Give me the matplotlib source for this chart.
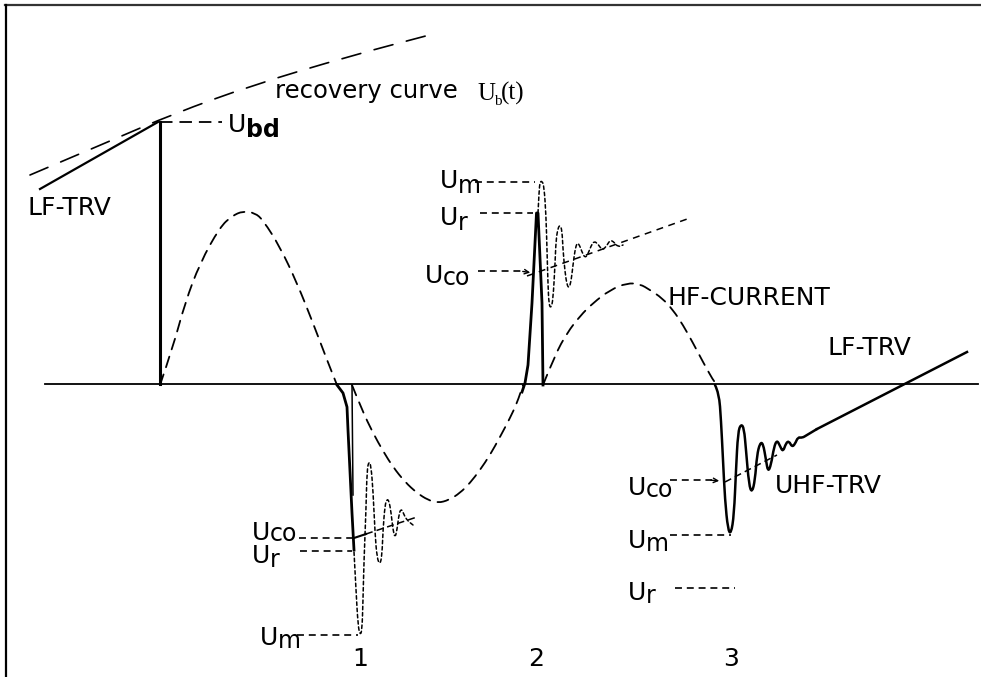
import matplotlib.pyplot as plt
from matplotlib.path import Path
from matplotlib.patches import PathPatch

plt.rcParams['lines.scale_dashes'] = False
plt.rcParams['font.family'] = 'DejaVu Sans'

W, H = 981, 677   # drawing units = pixels, y grows downwards
ZERO = 384        # zero line of voltage/current

# recovery curve Ub(t)
recovery_x = [30, 110, 173, 253, 350, 437]
recovery_y = [175, 141, 114, 85, 56, 33]

# first LF-TRV up to breakdown
lf_trv_x = [40, 158]
lf_trv_y = [189, 122]
u_bd = 122
x_bd = 160

# HF current, three loops
hf1_x = [160, 173, 185, 200, 220, 232, 243, 255, 263, 280, 297, 313, 327, 337]
hf1_y = [385, 347, 303, 263, 227, 216, 211, 213, 220, 247, 283, 323, 360, 385]
hf2_x = [352, 362, 373, 383, 393, 405, 417, 428, 438, 449, 460, 470, 480, 490, 500, 510, 517, 523]
hf2_y = [385, 410, 433, 451, 467, 482, 493, 500, 503, 500, 493, 483, 470, 455, 437, 418, 403, 385]
hf3_x = [543, 555, 567, 580, 593, 610, 627, 640, 650, 662, 673, 683, 693, 703, 713, 717]
hf3_y = [385, 355, 333, 316, 303, 290, 283, 284, 290, 298, 310, 325, 343, 362, 380, 385]

# current zero 1
v1_x = [337, 343, 347, 348, 352, 354]
v1_y = [385, 393, 407, 430, 513, 550]
osc1_x = [354, 356, 358, 360, 362, 363, 364, 366, 367, 369, 371, 373, 375, 377, 380, 382, 383, 385, 387, 389,
          391, 393, 395, 397, 399, 401, 403, 405, 408, 413]
osc1_y = [552, 590, 625, 635, 631, 600, 560, 510, 470, 461, 466, 490, 533, 558, 565, 555, 530, 505, 499, 501,
          512, 530, 538, 530, 514, 509, 512, 517, 521, 525]
levels1 = {'co': 538, 'r': 551, 'm': 635}

# current zero 2
v2_x = [522, 525, 528, 532, 536.5, 538, 542, 543]
v2_y = [392, 383, 365, 303, 213, 213, 303, 385]
osc2_x = [538, 539, 540, 542, 544, 546, 547, 548, 549, 551, 553, 555, 556, 558, 560, 562, 563, 565, 567,
          569, 571, 573, 575, 577, 579, 582, 585, 588, 591, 594, 598, 602, 606, 610, 614, 618, 623]
osc2_y = [213, 192, 182, 181, 186, 215, 250, 285, 305, 308, 300, 265, 240, 228, 225, 230, 250, 272, 285,
          288, 282, 265, 250, 243, 244, 252, 258, 254, 246, 241, 244, 250, 247, 240, 242, 247, 245]
levels2 = {'m': 182, 'r': 213, 'co': 271}

# current zero 3 with UHF-TRV and final LF-TRV
v3_x = [715, 719, 721, 723, 725, 728, 731, 734, 736, 738, 741, 744, 746, 749, 752, 755, 757, 760, 763,
        766, 768, 771, 774, 777, 780, 783, 786, 789, 792, 795, 798, 802, 807, 812, 817]
v3_y = [385, 393, 420, 460, 500, 530, 534, 515, 470, 432, 424, 428, 450, 485, 493, 480, 455, 443, 443,
        460, 472, 465, 447, 440, 446, 452, 443, 441, 447, 444, 437, 438, 435, 432, 429]
lf_trv_end = (967, 352)
levels3 = {'co': 480, 'm': 535, 'r': 588}

fig = plt.figure(figsize=(W / 100, H / 100), dpi=100)
ax = fig.add_axes([0, 0, 1, 1])
ax.set_xlim(0, W)
ax.set_ylim(H, 0)
ax.axis('off')

K = 'black'


def smooth(xs, ys, lw, dashes=None):
    # quadratic bezier through the midpoints, control points at the read points
    verts = [(xs[0], ys[0])]
    codes = [Path.MOVETO]
    for i in range(1, len(xs) - 1):
        mx = (xs[i] + xs[i + 1]) / 2
        my = (ys[i] + ys[i + 1]) / 2
        verts += [(xs[i], ys[i]), (mx, my)]
        codes += [Path.CURVE3, Path.CURVE3]
    verts.append((xs[-1], ys[-1]))
    codes.append(Path.LINETO)
    ls = '-' if dashes is None else (0, dashes)
    ax.add_patch(PathPatch(Path(verts, codes), fill=False, edgecolor=K, lw=lw,
                           linestyle=ls, capstyle='round', joinstyle='round'))


# frame and zero line
ax.plot([5, W], [5, 5], color='#333333', lw=1.6)
ax.plot([6, 6], [5, H], color=K, lw=1.6)
ax.plot([45, 978], [ZERO, ZERO], color=K, lw=1.3)

# recovery curve, LF-TRV and breakdown
smooth(recovery_x, recovery_y, 1.2, (14, 10))
ax.plot(lf_trv_x, lf_trv_y, color=K, lw=1.6)
ax.plot([x_bd, x_bd], [u_bd, ZERO], color=K, lw=2.2)
ax.plot([x_bd, 222], [u_bd, u_bd], color=K, lw=1.3, dashes=(9, 5))

# HF current
for xs, ys in [(hf1_x, hf1_y), (hf2_x, hf2_y), (hf3_x, hf3_y)]:
    smooth(xs, ys, 1.3, (8, 5.5))

# zero 1
ax.plot(v1_x, v1_y, color=K, lw=2.0, solid_joinstyle='round')
ax.plot([352, 353], [385, 495], color=K, lw=1.1)
smooth(osc1_x, osc1_y, 1.1, (2.5, 2))
ax.plot([354, 366], [538, 534], color=K, lw=1.5)
ax.plot([366, 417], [534, 517], color=K, lw=1.1, dashes=(5, 3))
ax.plot([299, 352], [levels1['co']] * 2, color=K, lw=1.2, dashes=(5, 3.5))
ax.plot([300, 352], [levels1['r']] * 2, color=K, lw=1.2, dashes=(5, 3.5))
ax.plot([297, 358], [levels1['m']] * 2, color=K, lw=1.2, dashes=(5, 3.5))

# zero 2
ax.plot(v2_x, v2_y, color=K, lw=2.0)
smooth(osc2_x, osc2_y, 1.1, (2.5, 2))
ax.plot([527, 690], [276, 218], color=K, lw=1.1, dashes=(5, 4))
ax.plot([475, 535], [levels2['m']] * 2, color=K, lw=1.2, dashes=(5, 3.5))
ax.plot([480, 533], [levels2['r']] * 2, color=K, lw=1.2, dashes=(5, 3.5))
ax.plot([478, 522], [levels2['co']] * 2, color=K, lw=1.2, dashes=(5, 3.5))
ax.annotate('', xy=(533, 273), xytext=(520, 271),
            arrowprops=dict(arrowstyle='->', color=K, lw=1.0, mutation_scale=8))

# zero 3
smooth(v3_x, v3_y, 1.8)
ax.plot([v3_x[-1], lf_trv_end[0]], [v3_y[-1], lf_trv_end[1]], color=K, lw=1.8)
ax.plot([725, 777], [482, 455], color=K, lw=1.1, dashes=(5, 3))
ax.plot([670, 712], [levels3['co']] * 2, color=K, lw=1.2, dashes=(5, 3.5))
ax.annotate('', xy=(722, 481), xytext=(708, 480),
            arrowprops=dict(arrowstyle='->', color=K, lw=1.0, mutation_scale=8))
ax.plot([670, 731], [levels3['m']] * 2, color=K, lw=1.2, dashes=(5, 3.5))
ax.plot([675, 735], [levels3['r']] * 2, color=K, lw=1.2, dashes=(5, 3.5))


def u_label(x, y, sub, dy=4, size=18, weight='normal'):
    ax.text(x, y, 'U', fontsize=size, va='baseline', ha='left')
    ax.text(x + 18, y + dy, sub, fontsize=size - 1, va='baseline', ha='left',
            fontweight=weight)


# texts
ax.text(27, 215, 'LF-TRV', fontsize=18, va='baseline')
ax.text(275, 98, 'recovery curve', fontsize=17.5, va='baseline')
ax.text(477, 100, 'U', fontsize=18, va='baseline', family='Liberation Serif')
ax.text(494, 105, 'b', fontsize=11, va='baseline', family='Liberation Serif')
ax.text(501, 100, '(t)', fontsize=18, va='baseline', family='Liberation Serif')
u_label(228, 132, 'bd', dy=5, weight='bold')

u_label(440, 188, 'm', dy=5)
u_label(440, 225, 'r', dy=5)
u_label(425, 283, 'co', dy=2)

u_label(252, 540, 'co', dy=1)
u_label(252, 563, 'r', dy=4)
u_label(260, 645, 'm', dy=3)

u_label(628, 495, 'co', dy=2)
u_label(628, 548, 'm', dy=3)
u_label(628, 600, 'r', dy=3)

ax.text(668, 305, 'HF-CURRENT', fontsize=18, va='baseline')
ax.text(828, 355, 'LF-TRV', fontsize=18, va='baseline')
ax.text(775, 493, 'UHF-TRV', fontsize=18, va='baseline')

for lab, xc in [('1', 360), ('2', 536), ('3', 731)]:
    ax.text(xc, 666, lab, fontsize=18, va='baseline', ha='center')

fig.savefig('out.png', dpi=100)
